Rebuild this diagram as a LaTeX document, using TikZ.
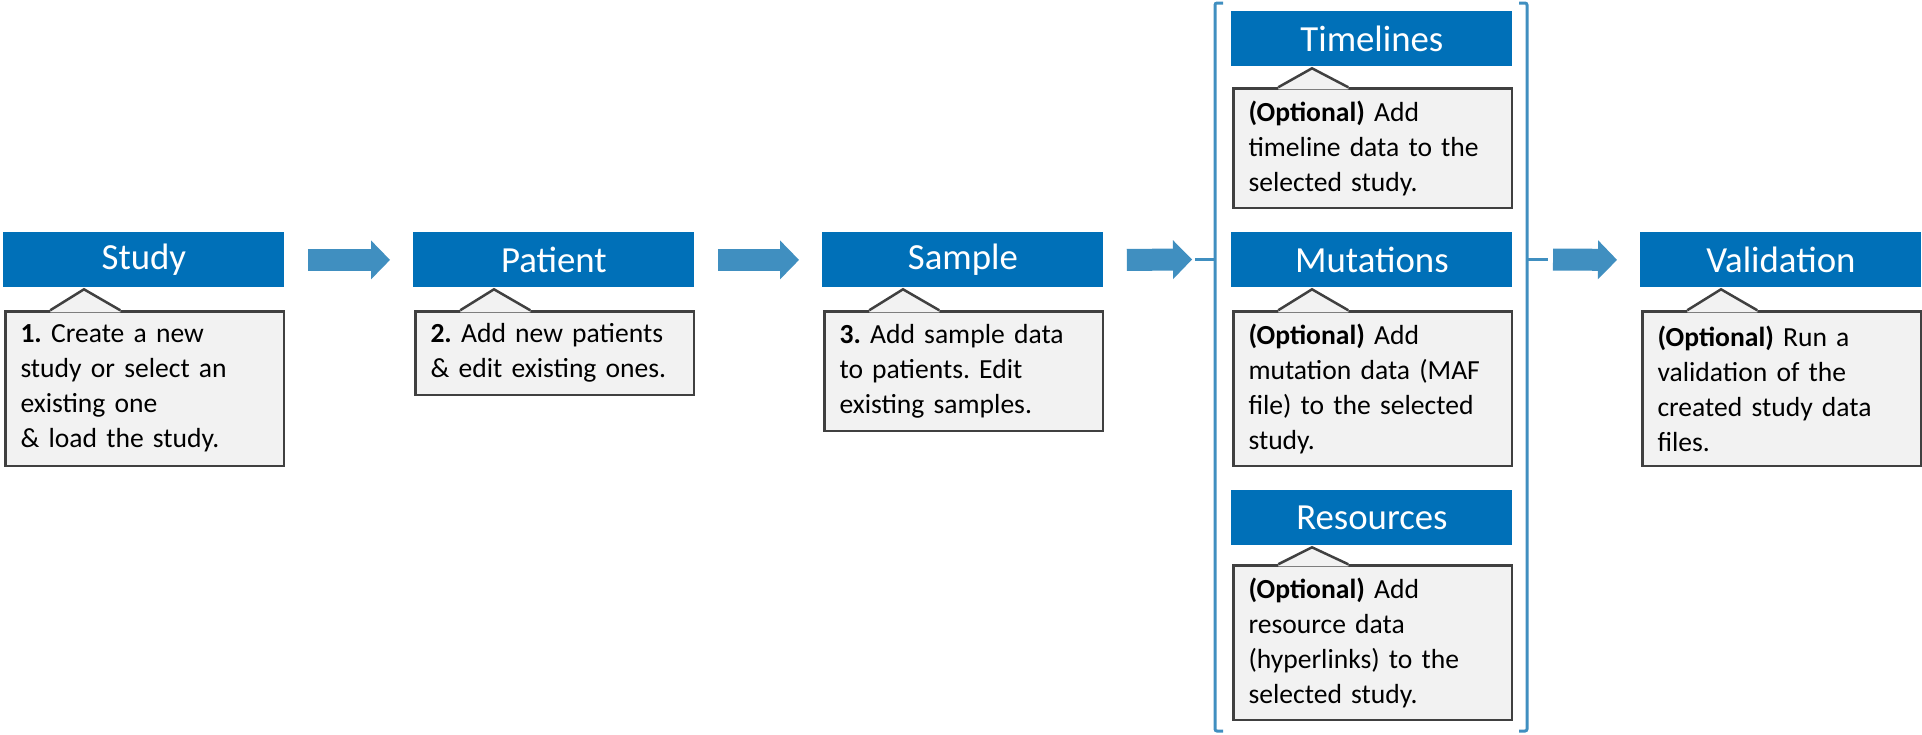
\documentclass[tikz,border=0pt]{standalone}
\usepackage{fontspec}
\setmainfont{Carlito}
\usepackage{tikz}
\usetikzlibrary{arrows.meta}
\frenchspacing
\definecolor{headblue}{RGB}{0,112,184}
\definecolor{flowblue}{RGB}{64,143,192}
\definecolor{notegray}{RGB}{242,242,242}
\definecolor{edgegray}{RGB}{64,64,64}
\tikzstyle{headblock} = [fill=headblue, text=white, anchor=north west, inner sep=0, minimum width=140.5pt, minimum height=27.5pt, font=\fontsize{18.4}{22}\selectfont]
\tikzstyle{noteblock} = [draw=edgegray, line width=1.25pt, fill=notegray, anchor=north west, inner xsep=7.5pt, inner ysep=0pt, text width=124.25pt, align=left, font=\fontsize{13.8}{17.5}\selectfont]
\tikzstyle{flowarrow} = [flowblue, line width=11pt, -{Triangle[width=19.5pt, length=9.5pt, line width=0pt]}]
\tikzstyle{bracketline} = [flowblue, line width=1.5pt, rounded corners=1pt]
% tip of a note pointing up at its header
\newcommand{\notetip}[2]{%
  \fill[notegray] ([xshift=23pt, yshift=-1pt]#2.north west) -- ([xshift=23pt]#2.north west) -- ([xshift=40.5pt, yshift=-0.75pt]#1.south west) -- ([xshift=58pt]#2.north west) -- ([xshift=58pt, yshift=-1pt]#2.north west) -- cycle;
  \draw[edgegray, line width=1.25pt] ([xshift=23pt]#2.north west) -- ([xshift=40.5pt, yshift=-0.75pt]#1.south west) -- ([xshift=58pt]#2.north west);}

\begin{document}
\begin{tikzpicture}[x=0.5pt, y=-0.5pt]
      \useasboundingbox (0, 0) rectangle (1922, 734);

      \node[headblock] (study) at (3, 232) {Study};
      \node[noteblock, minimum height=77.25pt] (studynote) at (4.25, 310.25) {\textbf{1.} Create a new\\ study or select an\\ existing one\\ \& load the study.};
      \node[headblock] (patient) at (413, 232) {Patient};
      \node[noteblock, minimum height=41.75pt] (patientnote) at (414.25, 310.25) {\textbf{2.} Add new patients\\ \& edit existing ones.};
      \node[headblock] (sample) at (822, 232) {Sample};
      \node[noteblock, minimum height=59.75pt] (samplenote) at (823.25, 310.25) {\textbf{3.} Add sample data\\ to patients. Edit\\ existing samples.};

      \node[headblock] (timelines) at (1231, 11) {Timelines};
      \node[noteblock, minimum height=59.75pt] (timelinenote) at (1232.25, 87.25) {\textbf{(Optional)} Add\\ timeline data to the\\ selected study.};
      \node[headblock] (mutations) at (1231, 232) {Mutations};
      \node[noteblock, minimum height=77.25pt] (mutationnote) at (1232.25, 310.25) {\textbf{(Optional)} Add\\ mutation data (MAF\\ file) to the selected\\ study.};
      \node[headblock] (resources) at (1231, 490) {Resources};
      \node[noteblock, minimum height=77.25pt] (resourcenote) at (1232.25, 564.25) {\textbf{(Optional)} Add\\ resource data\\ (hyperlinks) to the\\ selected study.};

      \node[headblock] (validation) at (1640, 232) {Validation};
      \node[noteblock, minimum height=77.25pt] (validationnote) at (1641.25, 310.25) {\textbf{(Optional)} Run a\\ validation of the\\ created study data\\ files.};

      \notetip{study}{studynote}
      \notetip{patient}{patientnote}
      \notetip{sample}{samplenote}
      \notetip{timelines}{timelinenote}
      \notetip{mutations}{mutationnote}
      \notetip{resources}{resourcenote}
      \notetip{validation}{validationnote}

      % group of optional steps
      \coordinate (groupin) at (1195, 259.5);
      \coordinate (groupout) at (1548, 259.5);
      \draw[bracketline] (1223, 3) -- (1215, 3) -- (1215, 731) -- (1223, 731);
      \draw[bracketline] (1519, 3) -- (1527, 3) -- (1527, 731) -- (1519, 731);
      \draw[bracketline] (1215, 259.5) -- (groupin);
      \draw[bracketline] (1527, 259.5) -- (groupout);

      \draw[flowarrow] ([xshift=11.5pt]study.east) -- ([xshift=-11.5pt]patient.west);
      \draw[flowarrow] ([xshift=11.5pt]patient.east) -- ([xshift=-11.5pt]sample.west);
      \draw[flowarrow] ([xshift=11.5pt]sample.east) -- ([xshift=-1.5pt]groupin);
      \draw[flowarrow] ([xshift=2.5pt]groupout) -- ([xshift=-11.5pt]validation.west);
    \end{tikzpicture}
\end{document}
